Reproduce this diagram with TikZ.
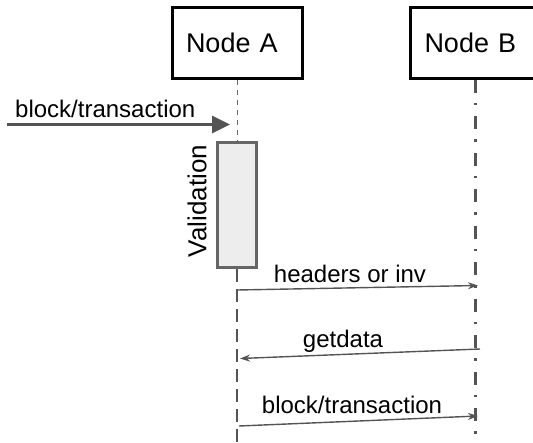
\documentclass[tikz,border=0pt]{standalone}
\usepackage{fontspec}
\setmainfont{Liberation Sans}
\usetikzlibrary{positioning, arrows.meta}

\begin{document}
\begin{tikzpicture}[x=1pt, y=-1pt,
    actor/.style={draw, rectangle, line width=3pt, minimum width=130pt, minimum height=71pt, text width=102pt, align=left, inner xsep=14pt, font=\fontsize{27}{32}\selectfont},
    msg/.style={inner sep=0pt, font=\fontsize{24}{28}\selectfont},
    call/.style={draw=black!67, line width=1.4pt, -{Stealth[length=10pt, width=7pt]}},
    >=stealth]

    \useasboundingbox (0,0) rectangle (533,442);

    % Nodes
    \node[actor] (nodeA) at (237,42.5) {Node A};
    \node[actor] (nodeB) at (475.5,42.5) {Node B};

    % Validation box
    \node[draw=black!60, fill=black!7, line width=3pt, minimum width=39pt, minimum height=125pt] (valid) at (237,204.5) {};
    \node[msg, rotate=90, font=\fontsize{26}{30}\selectfont] (validLabel) at (197,201) {Validation};

    % Lifelines
    \coordinate (aEnd) at (237,442);
    \coordinate (bEnd) at (475.5,442);
    \draw[black!60, line width=1pt, dash pattern=on 5pt off 5pt] (nodeA.south) -- (valid.north);
    \draw[black!67, line width=2.2pt, dash pattern=on 13pt off 7pt] (valid.south) -- (aEnd);
    \draw[black!67, line width=2.7pt, dash pattern=on 13pt off 10pt on 2.5pt off 11pt] (nodeB.south) -- (bEnd);

    % Incoming block/transaction
    \coordinate (inStart) at (7,124.5);
    \coordinate (inEnd) at (230,124.5);
    \draw[black!67, line width=3pt, -{Triangle[length=18pt, width=17pt]}] (inStart) -- (inEnd);
    \node[msg, anchor=base west] (inLabel) at (15,117) {block/transaction};

    % Messages
    \coordinate (hdrA) at (237,290);
    \coordinate (hdrB) at (478,285.5);
    \draw[call] (hdrA) -- (hdrB);
    \node[msg, anchor=base] (hdrLabel) at (350,282) {headers or inv};

    \coordinate (getB) at (480,349);
    \coordinate (getA) at (240,358.5);
    \draw[call] (getB) -- (getA);
    \node[msg, anchor=base] (getLabel) at (343,347) {getdata};

    \coordinate (blkA) at (239,426);
    \coordinate (blkB) at (478,416);
    \draw[call] (blkA) -- (blkB);
    \node[msg, anchor=base] (blkLabel) at (352,413) {block/transaction};

\end{tikzpicture}
\end{document}
